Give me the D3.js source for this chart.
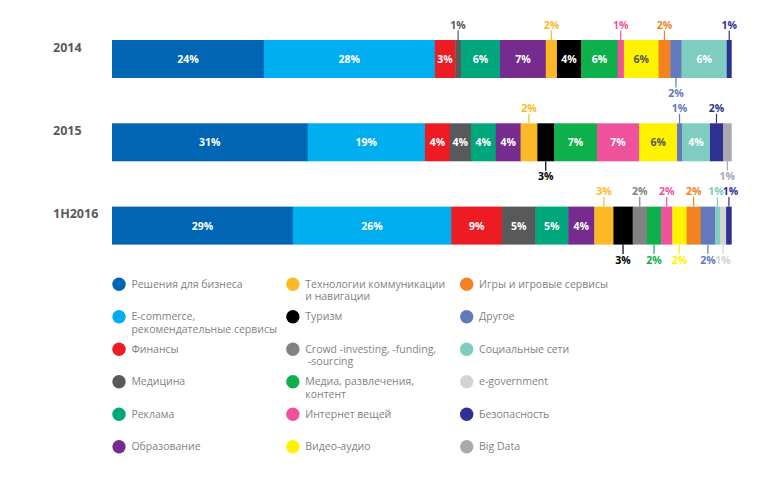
<!DOCTYPE html>
<html><head><meta charset="utf-8">
<script src="https://cdn.jsdelivr.net/npm/d3@7"></script>
<style>html,body{margin:0;padding:0;background:#fff;} svg{display:block;font-family:"Open Sans",sans-serif;}</style>
</head><body><svg id="chart" width="763" height="479"></svg>
<script>
const years = ["2014", "2015", "1H2016"];
const categories = [
  "Решения для бизнеса", "E-commerce,\nрекомендательные сервисы", "Финансы", "Медицина", "Реклама", "Образование",
  "Технологии коммуникации\nи навигации", "Туризм", "Crowd -investing, -funding,\n\u00a0-sourcing", "Медиа, развлечения,\nконтент", "Интернет вещей", "Видео-аудио",
  "Игры и игровые сервисы", "Другое", "Социальные сети", "e-government", "Безопасность", "Big Data"
];
const colors = [
  "#0065b3", "#00adef", "#ed1c24", "#58595b", "#00a67c", "#762c8f",
  "#fdb827", "#000000", "#808285", "#0db04b", "#ef529b", "#fff200",
  "#f58220", "#6379bd", "#7ecdc0", "#d1d3d4", "#2e3192", "#a7a9ac"
];
// shares
const values2014 = [24.5, 27.6, 3.3, 0.9, 6.3, 7.4, 1.8, 3.9, 0, 5.9, 1.0, 5.6, 1.9, 1.8, 7.3, 0, 0.8, 0];
const values2015 = [31.5, 18.9, 4.0, 3.4, 4.0, 4.0, 2.7, 2.7, 0, 6.9, 6.8, 6.1, 0, 0.8, 4.5, 0, 2.1, 1.4];
const values2016 = [29.2, 25.6, 8.2, 5.4, 5.3, 4.2, 3.1, 3.1, 2.3, 2.3, 1.8, 2.3, 2.3, 2.3, 0.8, 1.0, 0.9, 0];
// printed percentages
const labels2014 = [24, 28, 3, 1, 6, 7, 2, 4, 0, 6, 1, 6, 2, 2, 6, 0, 1, 0];
const labels2015 = [31, 19, 4, 4, 4, 4, 2, 3, 0, 7, 7, 6, 0, 1, 4, 0, 2, 1];
const labels2016 = [29, 26, 9, 5, 5, 4, 3, 3, 2, 2, 2, 2, 2, 2, 1, 1, 1, 0];

const valuesByYear = [values2014, values2015, values2016];
const labelsByYear = [labels2014, labels2015, labels2016];

const svg = d3.select("#chart");
const keys = d3.range(categories.length);
const rows = years.map((yr, i) => {
  const o = {year: yr};
  keys.forEach(k => o[k] = valuesByYear[i][k]);
  return o;
});
const stacked = d3.stack().keys(keys).offset(d3.stackOffsetExpand)(rows);

const x = d3.scaleLinear().domain([0, 1]).range([112, 731.7]);
const y = d3.scaleBand().domain(years).range([40, 244.6]).paddingInner(0.544);
const bw = y.bandwidth();

// year labels
svg.append("g").selectAll("text").data(years).join("text")
  .attr("x", 53).attr("y", d => y(d) + 7)
  .attr("dominant-baseline", "central")
  .attr("font-size", 12.5).attr("font-weight", 700).attr("fill", "#58595b")
  .text(d => d);

// segments
const segs = [];
stacked.forEach((s, k) => {
  s.forEach((d, i) => {
    if (valuesByYear[i][k] > 0) {
      segs.push({k, i, x0: x(d[0]), x1: x(d[1]), year: years[i]});
    }
  });
});
svg.append("g").selectAll("rect").data(segs).join("rect")
  .attr("x", d => d.x0).attr("y", d => y(d.year))
  .attr("width", d => Math.max(0, d.x1 - d.x0 + (d.x1 < 731 ? 0.4 : 0)))
  .attr("height", bw)
  .attr("fill", d => colors[d.k]);

// label layout
const FS = 10.5;
const measure = svg.append("text").attr("font-size", FS).attr("font-weight", 700).attr("visibility", "hidden");
function tw(t) { measure.text(t); return measure.node().getComputedTextLength(); }

const labG = svg.append("g").attr("font-size", FS).attr("font-weight", 700);
years.forEach((yr, i) => {
  const rowSegs = segs.filter(s => s.i === i).sort((a, b) => a.x0 - b.x0);
  let side = "up";
  const outs = {up: [], down: []};
  rowSegs.forEach(s => {
    const txt = labelsByYear[i][s.k] + "%";
    const w = s.x1 - s.x0;
    const cx = (s.x0 + s.x1) / 2;
    if (w >= 20) {
      labG.append("text").attr("x", cx).attr("y", y(yr) + bw / 2)
        .attr("text-anchor", "middle").attr("dominant-baseline", "central")
        .attr("fill", s.k === 11 ? "#58595b" : "#ffffff").text(txt);
      side = "up";
    } else {
      outs[side].push({s, txt, cx, lx: cx, w: tw(txt)});
      side = side === "up" ? "down" : "up";
    }
  });
  ["up", "down"].forEach(sd => {
    const arr = outs[sd];
    for (let pass = 0; pass < 4; pass++) {
      for (let j = 1; j < arr.length; j++) {
        const need = (arr[j].w + arr[j - 1].w) / 2 - 1;
        const d = arr[j].lx - arr[j - 1].lx;
        if (d < need) {
          const sh = (need - d) / 2;
          arr[j].lx += sh; arr[j - 1].lx -= sh;
        }
      }
    }
    arr.forEach(o => {
      const col = colors[o.s.k];
      const edge = sd === "up" ? y(yr) : y(yr) + bw;
      const dir = sd === "up" ? -1 : 1;
      labG.append("line").attr("x1", o.cx).attr("x2", o.cx)
        .attr("y1", edge).attr("y2", edge + dir * 9.5)
        .attr("stroke", col).attr("stroke-width", 1.2);
      labG.append("text").attr("x", o.lx).attr("y", edge + dir * 15.2)
        .attr("text-anchor", "middle").attr("dominant-baseline", "central")
        .attr("fill", col).text(o.txt);
    });
  });
});
measure.remove();

// legend
const colX = d3.scaleLinear().domain([0, 2]).range([119, 466.7]);
const rowY = d3.scaleLinear().domain([0, 5]).range([284.3, 446.7]);
const leg = svg.append("g").selectAll("g").data(categories).join("g")
  .attr("transform", (d, j) => `translate(${colX(Math.floor(j / 6))},${rowY(j % 6)})`);
leg.append("circle").attr("r", 6.7).attr("fill", (d, j) => colors[j]);
leg.append("text").attr("x", 12.4).attr("font-size", 10.5).attr("fill", "#808285")
  .each(function(d) {
    const t = d3.select(this);
    d.split("\n").forEach((ln, li) => {
      t.append("tspan").attr("x", 12.4).attr("y", li * 12.4).attr("dy", "0.35em").text(ln);
    });
  });
</script>
</body></html>
